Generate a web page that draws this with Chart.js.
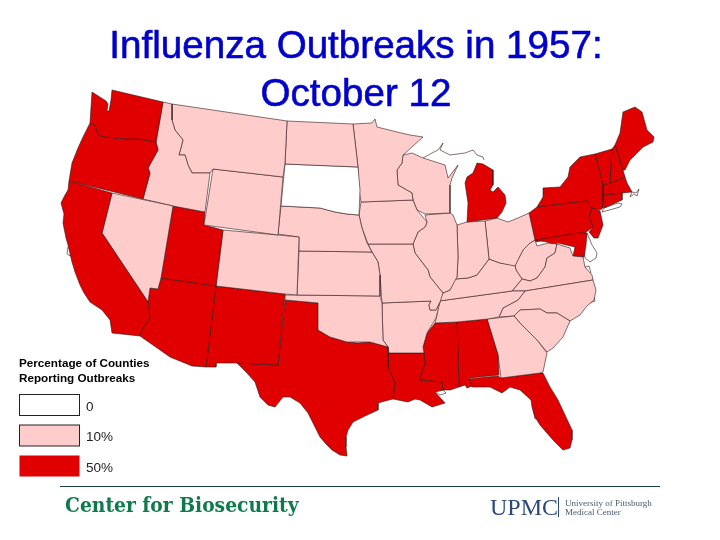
<!DOCTYPE html>
<html>
<head>
<meta charset="utf-8">
<title>Influenza Outbreaks in 1957: October 12</title>
<script src="https://cdn.jsdelivr.net/npm/chart.js@4"></script>
<style>
  html, body { margin: 0; padding: 0; background: #fff; }
  canvas { display: block; }
</style>
</head>
<body>
<canvas id="mapChart" width="720" height="540"></canvas>
<script>
// TEXT
const titleLines = ["Influenza Outbreaks in 1957:", "October 12"];
const legendTitle = ["Percentage of Counties", "Reporting Outbreaks"];
const legendShares = [0, 10, 50];
const legendLabels = ["0", "10%", "50%"];
const footerLeft = "Center for Biosecurity";
const footerBrand = "UPMC";
const footerRight = ["University of Pittsburgh", "Medical Center"];

// STATE OUTLINES (map units: x east, y south)
const washington = [[92,92],[106,101],[108,104],[107,111],[109,111],[111,100],[112,90],[163,102],[156,142],[139,139],[127,139],[106,137],[100,136],[97,131],[95,125],[90,123]];
const oregon = [[90,123],[95,125],[97,131],[100,136],[106,137],[127,139],[139,139],[156,142],[158,150],[148,168],[150,173],[143,199],[69,181],[72,163],[78,148],[83,137]];
const california = [[69,181],[112,193],[102,233],[148,302],[150,317],[142,330],[140,336],[112,333],[110,320],[102,310],[90,302],[84,293],[80,285],[75,272],[72,262],[68,245],[66,238],[63,223],[64,214],[61,203],[65,195],[68,190]];
const nevada = [[112,193],[173,206],[161,278],[158,289],[150,288],[148,302],[102,233]];
const idaho = [[163,102],[172,104],[172,120],[175,130],[183,140],[179,155],[185,155],[188,165],[192,173],[210,173],[205,212],[173,206],[143,199],[150,173],[148,168],[158,150],[156,142]];
const montana = [[172,104],[287,121],[285,163],[283,177],[213,169],[210,173],[192,173],[188,165],[185,155],[179,155],[183,140],[175,130],[172,120]];
const wyoming = [[213,169],[283,177],[278,235],[204,225]];
const utah = [[173,206],[205,212],[204,225],[223,230],[216,286],[161,278]];
const colorado = [[223,230],[278,235],[299,237],[297,295],[285,294],[216,286]];
const arizona = [[161,278],[216,286],[206,367],[192,366],[170,357],[140,336],[142,330],[150,317],[148,302],[150,288],[158,289]];
const newMexico = [[216,286],[285,294],[278,365],[237,363],[216,363],[216,367],[206,367]];
const northDakota = [[287,121],[353,124],[358,167],[285,164]];
const southDakota = [[285,164],[358,167],[360,190],[359,215],[347,214],[335,212],[320,208],[281,206]];
const nebraska = [[281,206],[320,208],[335,212],[347,214],[359,215],[362,228],[367,243],[372,252],[299,251],[299,237],[278,234]];
const kansas = [[299,251],[372,252],[378,262],[380,275],[380,296],[297,295]];
const oklahoma = [[285,295],[297,295],[380,296],[382,303],[383,340],[388,347],[370,342],[347,342],[330,337],[318,330],[318,303],[285,300]];
const texas = [[285,300],[318,303],[318,330],[330,337],[347,342],[358,343],[370,342],[388,347],[388,367],[395,383],[393,399],[385,401],[378,403],[378,410],[365,416],[353,422],[348,430],[346,437],[346,447],[347,456],[340,455],[332,450],[326,444],[320,437],[314,425],[308,413],[300,403],[290,397],[283,397],[275,407],[268,405],[260,397],[255,382],[246,372],[237,363],[278,365]];
const minnesota = [[353,124],[372,123],[375,119],[377,127],[397,132],[410,135],[423,137],[403,155],[402,163],[397,170],[398,185],[412,193],[413,200],[361,202],[359,190],[358,167]];
const iowa = [[361,202],[413,200],[417,210],[427,222],[425,227],[418,232],[413,244],[368,244],[362,228],[359,215]];
const missouri = [[368,244],[413,244],[415,253],[428,270],[430,277],[443,293],[440,302],[436,310],[430,310],[429,305],[431,301],[382,303],[380,275],[378,262],[372,252]];
const arkansas = [[382,303],[431,301],[429,305],[430,310],[436,310],[440,302],[436,318],[427,333],[423,347],[424,353],[389,353],[388,347],[383,340]];
const louisiana = [[388,353],[424,353],[425,363],[419,380],[442,382],[443,390],[435,392],[445,403],[432,407],[420,400],[415,399],[408,402],[393,399],[395,383],[388,367]];
const wisconsin = [[403,155],[412,153],[423,158],[445,165],[448,178],[458,165],[452,178],[450,185],[450,213],[425,214],[417,210],[413,200],[412,193],[398,185],[397,170],[402,163]];
const illinois = [[425,215],[450,213],[453,215],[457,225],[458,257],[457,277],[450,290],[443,293],[430,277],[428,270],[415,253],[413,244],[418,232],[425,227],[427,222]];
const michigan = [[477,163],[483,164],[493,170],[493,185],[490,190],[493,192],[498,187],[505,195],[506,203],[502,212],[497,218],[467,222],[468,203],[465,183],[467,177],[473,173]];
const indiana = [[457,225],[467,222],[485,221],[489,259],[483,267],[477,275],[468,278],[455,279],[457,277],[458,257]];
const ohio = [[485,221],[497,218],[508,222],[518,218],[529,213],[535,240],[530,243],[523,250],[515,266],[500,263],[489,259]];
const kentucky = [[443,293],[450,290],[455,279],[468,278],[477,275],[483,267],[489,259],[500,263],[515,265],[516,270],[522,279],[512,291],[439,301],[440,297]];
const tennessee = [[439,301],[512,291],[525,291],[518,300],[503,308],[499,317],[488,319],[457,322],[435,323],[437,315]];
const mississippi = [[427,333],[435,323],[457,322],[459,387],[450,390],[443,390],[442,382],[419,380],[425,363],[424,353],[423,347]];
const alabama = [[457,322],[487,319],[498,355],[499,375],[469,378],[472,386],[467,388],[465,385],[459,387]];
const georgia = [[487,319],[514,316],[520,323],[537,340],[547,353],[543,372],[540,373],[501,378],[498,355]];
const florida = [[468,379],[498,376],[501,378],[540,373],[543,373],[550,387],[558,400],[565,415],[572,430],[572,440],[570,448],[563,450],[553,440],[546,432],[540,425],[535,417],[532,407],[531,400],[520,390],[510,387],[502,393],[490,387],[472,387]];
const southCarolina = [[514,316],[520,310],[540,309],[547,313],[557,313],[570,321],[563,337],[553,348],[547,352],[537,340],[520,323]];
const northCarolina = [[525,291],[593,280],[596,290],[594,300],[587,306],[580,315],[570,321],[557,313],[547,313],[540,309],[520,310],[514,316],[499,317],[503,308],[518,300]];
const virginia = [[522,279],[530,281],[537,278],[545,267],[547,258],[555,253],[557,244],[570,248],[573,256],[583,257],[585,267],[592,275],[593,280],[525,291],[512,291]];
const westVirginia = [[516,270],[515,265],[523,250],[530,243],[535,240],[537,246],[548,243],[557,244],[555,253],[547,258],[545,267],[537,278],[530,281],[522,279]];
const maryland = [[535,240],[578,233],[587,233],[586,245],[584,257],[573,256],[575,247],[558,243],[552,245],[547,242]];
const pennsylvania = [[529,213],[537,207],[587,201],[592,208],[589,217],[593,227],[585,233],[535,242]];
const newJersey = [[592,208],[600,211],[603,225],[598,238],[594,238],[589,232],[593,227],[589,217]];
const newYork = [[537,207],[543,197],[543,188],[560,187],[568,177],[570,167],[580,157],[595,154],[603,185],[603,208],[600,210],[590,208],[587,201]];
const vermont = [[595,154],[612,149],[611,163],[610,183],[603,185]];
const newHampshire = [[612,149],[615,145],[623,170],[625,177],[610,183],[611,163]];
const maine = [[615,145],[620,133],[623,112],[635,107],[642,112],[647,130],[654,137],[653,142],[643,147],[630,160],[625,170],[623,170]];
const massachusetts = [[603,185],[610,183],[625,177],[627,183],[632,192],[622,193],[603,195]];
const connecticut = [[603,195],[622,193],[622,200],[604,208]];

const stateNames = ["Washington","Oregon","California","Nevada","Idaho","Montana","Wyoming","Utah","Colorado","Arizona","New Mexico","North Dakota","South Dakota","Nebraska","Kansas","Oklahoma","Texas","Minnesota","Iowa","Missouri","Arkansas","Louisiana","Wisconsin","Illinois","Michigan","Indiana","Ohio","Kentucky","Tennessee","Mississippi","Alabama","Georgia","Florida","South Carolina","North Carolina","Virginia","West Virginia","Maryland","Pennsylvania","New Jersey","New York","Vermont","New Hampshire","Maine","Massachusetts","Connecticut"];
const stateShares = [50,50,50,10,10,10,10,50,10,50,50,10,0,10,10,10,50,10,10,10,10,50,10,10,50,10,10,10,10,50,50,10,50,10,10,10,10,50,50,50,50,50,50,50,50,50];
const stateOutlines = [washington,oregon,california,nevada,idaho,montana,wyoming,utah,colorado,arizona,newMexico,northDakota,southDakota,nebraska,kansas,oklahoma,texas,minnesota,iowa,missouri,arkansas,louisiana,wisconsin,illinois,michigan,indiana,ohio,kentucky,tennessee,mississippi,alabama,georgia,florida,southCarolina,northCarolina,virginia,westVirginia,maryland,pennsylvania,newJersey,newYork,vermont,newHampshire,maine,massachusetts,connecticut];

// Water and unfilled coast, white with the same thin outline
const saltLake = [[185,213],[188,212],[190,220],[189,224],[186,223]];
const sanFranciscoBay = [[68,247],[72,245],[74,248],[71,251],[70,256],[67,254]];
const tampaBay = [[533,409],[537,412],[538,418],[535,419]];
const delmarva = [[587,233],[592,245],[597,253],[596,258],[590,262],[585,258],[583,245]];
const longIsland = [[602,212],[620,207],[622,204],[618,203],[604,208]];
const capeCod = [[630,197],[634,194],[637,196],[639,189],[636,193],[632,192]];
const pamlicoSound = [[585,300],[594,297],[595,301],[587,304]];
const chesapeakeMouth = [[585,267],[589,266],[591,273],[586,276]];
const pontchartrain = [[435,391],[443,390],[446,393],[440,395]];
const waterShapes = [saltLake,sanFranciscoBay,tampaBay,delmarva,longIsland,capeCod,pamlicoSound,chesapeakeMouth,pontchartrain];

// Upper Michigan has only a shoreline in the picture
const upperPeninsula = [[423,158],[432,153],[438,150],[443,143],[440,150],[450,155],[465,153],[473,150],[477,155],[483,157],[484,160]];

// COLOURS
const SHARE_COLORS = { 0: "#ffffff", 10: "#ffcccc", 50: "#e00000" };
const EDGE_COLOR = "#301818";

function toPoints(outline) {
    const points = outline.map(([x, y]) => ({ x, y }));
    points.push(points[0]); // close the shape
    return points;
}

function shapeDataset(label, outline, color) {
    return {
        label: label,
        data: toPoints(outline),
        showLine: true,
        fill: "shape",
        backgroundColor: color,
        borderColor: EDGE_COLOR,
        borderWidth: 0.6,
        borderJoinStyle: "round",
        pointRadius: 0,
        tension: 0,
        clip: false
    };
}

const datasets = stateNames.map((name, i) =>
    shapeDataset(name, stateOutlines[i], SHARE_COLORS[stateShares[i]])
);
waterShapes.forEach((shape) => datasets.push(shapeDataset("water", shape, "#ffffff")));
datasets.push({
    label: "Upper Peninsula",
    data: upperPeninsula.map(([x, y]) => ({ x, y })),
    showLine: true,
    fill: false,
    borderColor: EDGE_COLOR,
    borderWidth: 0.6,
    pointRadius: 0,
    tension: 0
});

// Title, legend and footer sit over the map, so they do not take layout space
const slideText = {
    id: "slideText",
    afterDatasetsDraw(chart) {
        const ctx = chart.ctx;
        ctx.save();
        ctx.textBaseline = "alphabetic";

        // title
        ctx.fillStyle = "#0000cc";
        ctx.strokeStyle = "#0000cc";
        ctx.lineWidth = 0.6;
        ctx.textAlign = "center";
        ctx.font = '38.6px "Liberation Sans"';
        titleLines.forEach((line, i) => {
            const baseline = i === 0 ? 58 : 106;
            ctx.fillText(line, 356, baseline);
            ctx.strokeText(line, 356, baseline);
        });

        // legend
        ctx.textAlign = "left";
        ctx.fillStyle = "#000000";
        ctx.font = 'bold 11.7px "Liberation Sans"';
        ctx.fillText(legendTitle[0], 19, 367);
        ctx.fillText(legendTitle[1], 19, 382);
        legendShares.forEach((share, i) => {
            const top = 394.5 + i * 30.5;
            ctx.fillStyle = SHARE_COLORS[share];
            ctx.fillRect(19.5, top, 60, 21);
            if (share !== 50) {
                ctx.strokeStyle = "#222222";
                ctx.lineWidth = 1;
                ctx.strokeRect(19.5, top, 60, 21);
            }
            ctx.fillStyle = "#222222";
            ctx.font = '13.5px "Liberation Sans"';
            ctx.fillText(legendLabels[i], 86, top + 16);
        });

        // footer
        ctx.strokeStyle = "#1d3c48";
        ctx.lineWidth = 1;
        ctx.beginPath();
        ctx.moveTo(60, 486.5);
        ctx.lineTo(660, 486.5);
        ctx.stroke();

        ctx.fillStyle = "#0f7a4c";
        ctx.font = 'bold 20.8px "DejaVu Serif Condensed"';
        ctx.fillText(footerLeft, 65, 512);

        ctx.fillStyle = "#2b4a78";
        ctx.font = '24px "Liberation Serif"';
        ctx.fillText(footerBrand, 490, 515);
        ctx.fillRect(558, 497, 1, 20);
        ctx.fillStyle = "#4a5a70";
        ctx.font = '9px "Liberation Serif"';
        ctx.fillText(footerRight[0], 565, 506);
        ctx.fillText(footerRight[1], 565, 515);
        ctx.restore();
    }
};

new Chart(document.getElementById("mapChart"), {
    type: "scatter",
    data: { datasets: datasets },
    options: {
        responsive: false,
        animation: false,
        layout: { padding: 0 },
        scales: {
            x: { type: "linear", min: 0, max: 720, display: false },
            y: { type: "linear", min: 0, max: 540, reverse: true, display: false }
        },
        plugins: {
            legend: { display: false },
            tooltip: { enabled: false }
        }
    },
    plugins: [slideText]
});
</script>
</body>
</html>
